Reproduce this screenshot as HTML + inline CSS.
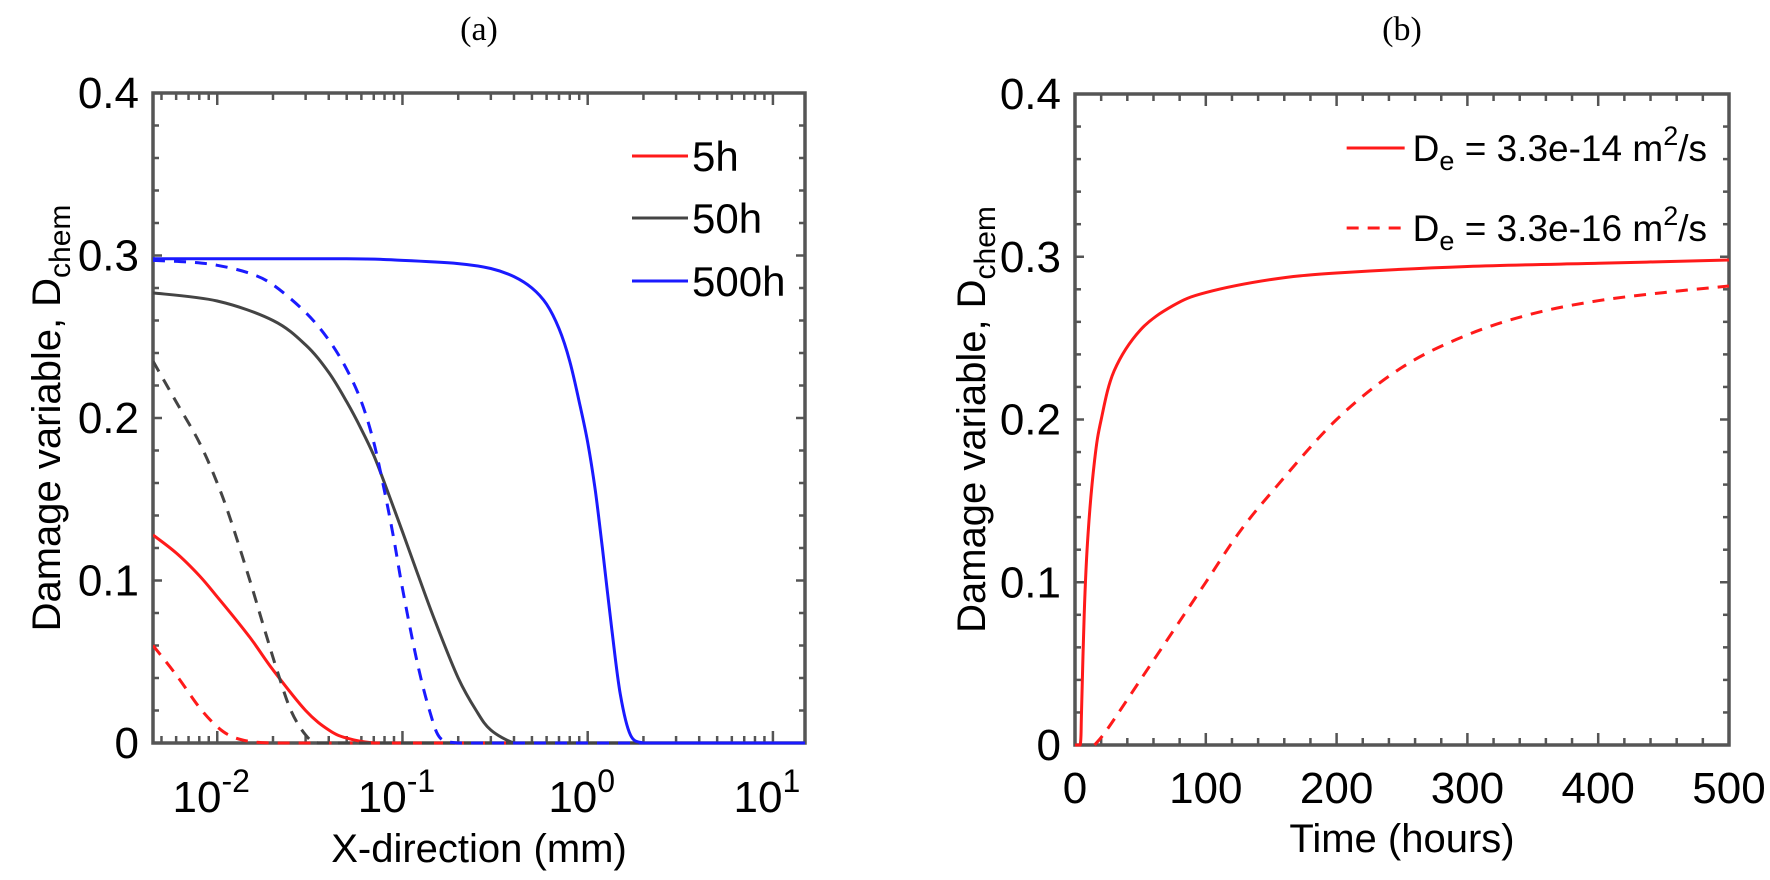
<!DOCTYPE html>
<html><head><meta charset="utf-8"><style>
body{margin:0;background:#fff}
svg{display:block;font-family:"Liberation Sans",sans-serif}
</style></head><body>
<svg id="s" width="1770" height="880" viewBox="0 0 1770 880">
<text x="479" y="40" font-family="Liberation Serif,serif" font-size="34" text-anchor="middle">(a)</text>
<text x="1402" y="40" font-family="Liberation Serif,serif" font-size="34" text-anchor="middle">(b)</text>
<g id="ga"></g>
<g id="gb"></g>
</svg>
<script>
// Panel (a) data
const aRedX=[0.0045,0.006,0.008,0.01,0.015,0.02,0.03,0.04,0.05,0.07,0.1,15];
const aRedY=[0.128,0.117,0.103,0.09,0.065,0.045,0.02,0.008,0.003,0,0,0];
const aRedDX=[0.0045,0.006,0.008,0.01,0.012,0.015,0.02,0.03,15];
const aRedDY=[0.06,0.042,0.022,0.01,0.004,0.001,0,0,0];
const aGrayX=[0.0045,0.01,0.02,0.03,0.04,0.05,0.06,0.07,0.08,0.1,0.12,0.15,0.2,0.25,0.3,0.4,0.5,15];
const aGrayY=[0.277,0.272,0.26,0.245,0.228,0.21,0.193,0.177,0.16,0.13,0.105,0.075,0.04,0.02,0.008,0,0,0];
const aGrayDX=[0.0045,0.006,0.008,0.01,0.012,0.015,0.018,0.021,0.025,0.03,0.035,0.05,15];
const aGrayDY=[0.235,0.21,0.185,0.16,0.135,0.1,0.07,0.045,0.02,0.005,0,0,0];
const aBlueX=[0.0045,0.05,0.1,0.2,0.3,0.4,0.5,0.6,0.7,0.8,0.9,1.0,1.1,1.2,1.35,1.5,1.7,2.0,2.5,15];
const aBlueY=[0.298,0.298,0.297,0.295,0.292,0.287,0.28,0.27,0.255,0.235,0.21,0.185,0.155,0.12,0.07,0.03,0.005,0,0,0];
const aBlueDX=[0.0045,0.007,0.01,0.015,0.02,0.03,0.04,0.05,0.06,0.07,0.08,0.09,0.1,0.12,0.14,0.16,0.2,0.25,15];
const aBlueDY=[0.297,0.296,0.294,0.289,0.282,0.265,0.248,0.23,0.21,0.185,0.155,0.125,0.095,0.05,0.02,0.003,0,0,0];
const aXTicks=[0.01,0.1,1,10];
const aXTickExp=["-2","-1","0","1"];
const yTicks=[0,0.1,0.2,0.3,0.4];
const yTickLabels=["0","0.1","0.2","0.3","0.4"];
const aLegend=["5h","50h","500h"];
// Panel (b) data
const bSolidT=[0,4,5,7,10,15,20,30,50,75,100,150,200,300,400,500];
const bSolidY=[0,0,0.02,0.08,0.13,0.175,0.2,0.23,0.255,0.27,0.278,0.286,0.29,0.294,0.296,0.298];
const bDashT=[15,25,50,75,100,125,150,200,250,300,350,400,450,500];
const bDashY=[0,0.01,0.04,0.07,0.1,0.13,0.155,0.2,0.232,0.252,0.265,0.273,0.278,0.282];
const bXTicks=[0,100,200,300,400,500];
const bLegend=["3.3e-14","3.3e-16"];

const NS="http://www.w3.org/2000/svg";
function mk(p,tag,at){const e=document.createElementNS(NS,tag);for(const k in at)e.setAttribute(k,at[k]);p.appendChild(e);return e;}
const AX="#555";

const aL=153,aR=805,aT=93,aB=743,lmin=Math.log10(0.0045),lmax=Math.log10(14.9);
const ax=v=>aL+(Math.log10(v)-lmin)/(lmax-lmin)*(aR-aL);
const ay=v=>aB-v/0.4*(aB-aT);
const bL=1075,bR=1729,bT=94,bB=745;
const bx=v=>bL+v/500*(bR-bL);
const by=v=>bB-v/0.4*(bB-bT);

function series(g,X,Y,fx,fy,col,dash,name){
  const P=X.map((x,i)=>[Math.min(fx(x),2000),fy(Y[i])]);
  let d="M"+P[0][0].toFixed(1)+","+P[0][1].toFixed(1);
  for(let i=0;i<P.length-1;i++){
    const p0=P[Math.max(i-1,0)],p1=P[i],p2=P[i+1],p3=P[Math.min(i+2,P.length-1)];
    let c1=[p1[0]+(p2[0]-p0[0])/6,p1[1]+(p2[1]-p0[1])/6];
    let c2=[p2[0]-(p3[0]-p1[0])/6,p2[1]-(p3[1]-p1[1])/6];
    const lo=Math.min(p1[1],p2[1]),hi=Math.max(p1[1],p2[1]);
    c1[1]=Math.min(Math.max(c1[1],lo),hi);c2[1]=Math.min(Math.max(c2[1],lo),hi);
    c1[0]=Math.min(c1[0],p2[0]);c2[0]=Math.max(c2[0],p1[0]);
    d+=` C${c1[0].toFixed(1)},${c1[1].toFixed(1)} ${c2[0].toFixed(1)},${c2[1].toFixed(1)} ${p2[0].toFixed(1)},${p2[1].toFixed(1)}`;
  }
  const e=mk(g,"path",{d:d,fill:"none",stroke:col,"stroke-width":3,"stroke-linejoin":"round","stroke-dasharray":dash?"12,9":"none"});
  
  
}
function yAxis(g,fy,L,R,cx){
  for(let v=0;v<=0.4001;v+=0.02){
    const y=fy(v),maj=Math.abs(v*10-Math.round(v*10))<1e-6,len=maj?9:6;
    mk(g,"line",{x1:L,y1:y,x2:L+len,y2:y,stroke:AX,"stroke-width":2.5});
    mk(g,"line",{x1:R,y1:y,x2:R-len,y2:y,stroke:AX,"stroke-width":2.5});
  }
  yTicks.forEach((v,i)=>{const t=mk(g,"text",{x:L-14,y:fy(v)+15,"font-size":44,"text-anchor":"end"});t.textContent=yTickLabels[i];
    
    });
  const yt=mk(g,"text",{x:0,y:0,"font-size":40,"text-anchor":"middle",transform:`translate(${cx},${(fy(0)+fy(0.4))/2}) rotate(-90)`});
  
  
  yt.innerHTML='Damage variable, D<tspan font-size="30" dy="10">chem</tspan>';
}
function frame(g,L,R,T,B){
  const r=mk(g,"rect",{x:L,y:T,width:R-L,height:B-T,fill:"none",stroke:AX,"stroke-width":3.5});
  
  
}

const ga=document.getElementById("ga");
frame(ga,aL,aR,aT,aB);
yAxis(ga,ay,aL,aR,60);
for(let d=-3;d<=1;d++)for(let m=1;m<=9;m++){
  const v=m*Math.pow(10,d);if(v<0.0045||v>14.9)continue;const x=ax(v),len=m==1?12:7;
  mk(ga,"line",{x1:x,y1:aB,x2:x,y2:aB-len,stroke:AX,"stroke-width":2.5});
  mk(ga,"line",{x1:x,y1:aT,x2:x,y2:aT+len,stroke:AX,"stroke-width":2.5});
}
const clipA=mk(ga,"clipPath",{id:"ca"});mk(clipA,"rect",{x:aL,y:aT-5,width:aR-aL,height:aB-aT+10});
const sa=mk(ga,"g",{"clip-path":"url(#ca)"});
series(sa,aRedX,aRedY,ax,ay,"#ff1a1a",false,"line-5h");
series(sa,aRedDX,aRedDY,ax,ay,"#ff1a1a",true,"line-5h-dashed");
series(sa,aGrayX,aGrayY,ax,ay,"#444",false,"line-50h");
series(sa,aGrayDX,aGrayDY,ax,ay,"#444",true,"line-50h-dashed");
series(sa,aBlueX,aBlueY,ax,ay,"#1a1aff",false,"line-500h");
series(sa,aBlueDX,aBlueDY,ax,ay,"#1a1aff",true,"line-500h-dashed");
aXTicks.forEach((v,i)=>{const t=mk(ga,"text",{x:ax(v)-6,y:812,"font-size":44,"text-anchor":"middle"});
  t.innerHTML='10<tspan font-size="32" dy="-20">'+aXTickExp[i]+'</tspan>';
  
  });
const axt=mk(ga,"text",{x:(aL+aR)/2,y:862,"font-size":40,"text-anchor":"middle"});axt.textContent="X-direction (mm)";


const legCols=["#ff1a1a","#444","#1a1aff"],legY=[156,218,281];
aLegend.forEach((s,i)=>{
  const l=mk(ga,"line",{x1:632,y1:legY[i],x2:688,y2:legY[i],stroke:legCols[i],"stroke-width":3});
  
  
  const t=mk(ga,"text",{x:692,y:legY[i]+15,"font-size":42});t.textContent=s;
  
  
});

const gb=document.getElementById("gb");
frame(gb,bL,bR,bT,bB);
yAxis(gb,by,bL,bR,985);
for(let v=0;v<=500;v+=20){const x=bx(v),len=v%100==0?12:7;
  mk(gb,"line",{x1:x,y1:bB,x2:x,y2:bB-len,stroke:AX,"stroke-width":2.5});
  mk(gb,"line",{x1:x,y1:bT,x2:x,y2:bT+len,stroke:AX,"stroke-width":2.5});}
series(gb,bSolidT,bSolidY,bx,by,"#ff1a1a",false,"line-de-3.3e-14");
series(gb,bDashT,bDashY,bx,by,"#ff1a1a",true,"line-de-3.3e-16");
bXTicks.forEach(v=>{const t=mk(gb,"text",{x:bx(v),y:803,"font-size":44,"text-anchor":"middle"});t.textContent=String(v);
  
  });
const bxt=mk(gb,"text",{x:(bL+bR)/2,y:852,"font-size":40,"text-anchor":"middle"});bxt.textContent="Time (hours)";


const bLegY=[148,228];
bLegend.forEach((s,i)=>{
  const t=mk(gb,"text",{x:1707,y:bLegY[i]+13,"font-size":37,"text-anchor":"end"});
  t.innerHTML='D<tspan font-size="27" dy="9">e</tspan><tspan dy="-9"> = '+s+' m</tspan><tspan font-size="27" dy="-16">2</tspan><tspan dy="16">/s</tspan>';
  
  
  const w=t.getBBox().width;const x0=1707-w-8;
  const l=mk(gb,"line",{x1:x0-58,y1:bLegY[i],x2:x0,y2:bLegY[i],stroke:"#ff1a1a","stroke-width":3,"stroke-dasharray":i?"12,9":"none"});
  
  
});
</script>
</body></html>
